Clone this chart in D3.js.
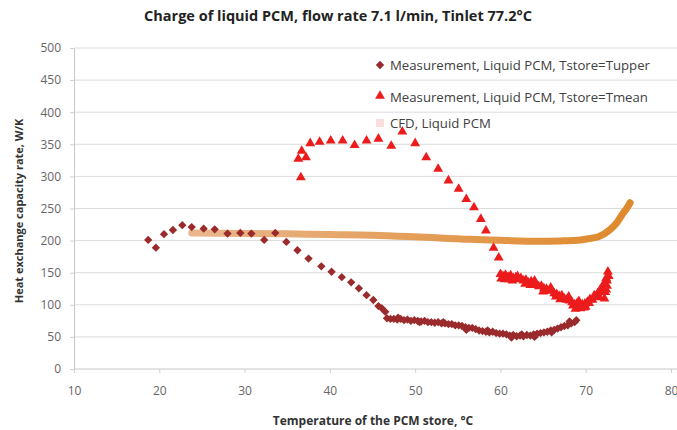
<!DOCTYPE html>
<html>
<head>
<meta charset="utf-8">
<script src="https://cdn.jsdelivr.net/npm/d3@7/dist/d3.min.js"></script>
<style>
  body { margin: 0; background: #fff; }
  svg text { font-family: "Open Sans", "Noto Sans", sans-serif; }
</style>
</head>
<body>
<svg id="chart" width="677" height="430"></svg>
<script>
var WIDTH = 677, HEIGHT = 430;
var margin = {top: 48, right: 6, bottom: 61, left: 74};

var X_TICKS = [10, 20, 30, 40, 50, 60, 70, 80];
var Y_TICKS = [0, 50, 100, 150, 200, 250, 300, 350, 400, 450, 500];

// Measurement, Tstore=Tupper (diamonds)
var upperT = [18.7, 19.6, 20.55, 21.6, 22.7, 23.8, 25.2, 26.5, 28.0, 29.5, 30.8, 32.3, 33.6, 34.9,
  36.2, 37.5, 39.0, 40.2, 41.4, 42.5, 43.4, 44.3, 45.1, 45.7, 46.1, 46.5,
  46.7, 47.1, 47.5, 47.9, 48.3, 48.7, 49.1, 49.5, 49.9, 50.3, 50.7, 51.1, 51.5, 51.9, 52.3, 52.7,
  53.1, 53.5, 53.9, 54.3, 54.7, 55.1, 55.5, 55.9, 56.3, 56.7, 57.1, 57.5, 57.9, 58.3, 58.7, 59.1,
  59.5, 59.9, 60.3, 60.7, 61.1, 61.5, 61.9, 62.3, 62.7, 63.1, 63.5, 63.9, 64.3, 64.7, 65.1, 65.5,
  65.9, 66.3, 66.7, 67.1, 67.5, 67.9, 68.3, 68.7, 68.9,
  48.0, 50.5, 53.3, 56.0, 58.5, 61.3, 62.5, 64.0, 66.0, 68.1];
var upperV = [201, 189, 210, 216.5, 224, 221, 218.6, 217.6, 211, 212, 211, 201, 212, 198,
  185, 172, 160, 151.5, 143, 135, 125.6, 115, 107.5, 98, 94.5, 89,
  79, 78, 78, 77, 78, 76, 77, 75, 76, 75, 74, 75, 73, 73, 72, 73,
  71, 71, 70, 70, 68, 68, 67, 65, 64, 64, 62, 60, 59, 58, 57, 58,
  56, 55, 55, 54, 52, 53, 51, 52, 51, 53, 52, 54, 55, 56, 57, 58,
  60, 61, 63, 65, 67, 68, 71, 73, 76,
  80, 73, 73, 61, 60, 49, 54, 50, 57, 74];

// Measurement, Tstore=Tmean (triangles)
var meanT = [36.3, 36.7, 37.2, 36.6, 37.7, 38.8, 40.1, 41.5, 42.9, 44.3, 45.7, 47.2, 48.5, 50.0,
  51.3, 52.7, 53.9, 55.1, 56.0, 56.9, 57.7, 58.3, 59.2, 59.8,
  60.0, 60.3, 60.6, 60.9, 61.2, 61.5, 61.8, 62.1, 62.4, 62.7, 63.0, 63.3, 63.6, 63.9, 64.2, 64.5,
  64.8, 65.1, 65.4, 65.7, 66.0, 66.3, 66.6, 66.9, 67.2, 67.5, 67.8, 68.1, 68.4, 68.7, 69.0, 69.3,
  69.6, 69.9, 70.2, 70.5, 70.8, 71.1, 71.4, 71.7, 72.0, 72.2, 72.4, 72.6,
  68.8, 69.4, 70.0, 72.3, 72.5, 72.2, 61.0, 63.5, 66.5,
  60.1, 60.5, 61.4, 62.0, 62.9, 64.0, 65.0, 65.9, 67.0, 68.0, 68.5, 69.2, 69.8, 70.4, 71.0, 71.6,
  72.1, 72.5, 72.7, 72.4];
var meanV = [325.5, 338, 328, 297, 350, 352, 354, 354, 347, 354, 357, 346, 368, 350,
  328, 310, 292, 279, 263, 250, 232, 214, 187, 172,
  146, 143, 145, 142, 144, 140, 141, 138, 140, 136, 137, 133, 135, 131, 130, 127,
  128, 124, 123, 120, 121, 116, 115, 112, 113, 108, 106, 105, 102, 99, 101, 96,
  99, 100, 103, 107, 106, 112, 116, 122, 126, 133, 140, 150,
  92, 93, 95, 118, 128, 108, 138, 129, 111,
  139, 138, 136, 143, 131, 136, 119, 125, 107, 111, 97, 104, 94, 101, 113, 110,
  119, 136, 143, 122];

// CFD, Liquid PCM (line)
var cfdT = [23.8, 30, 35, 40, 45, 50, 56.4, 60, 64.2, 67, 69, 70.1, 71.5, 72.8, 73.6, 74.4, 74.9, 75.2];
var cfdV = [212, 211, 210.5, 209.5, 208.5, 206, 202, 200.5, 199, 199.5, 200.5, 202.5, 206, 216.5, 227, 243, 252, 259];

var SERIES_NAMES = ["Measurement, Liquid PCM, Tstore=Tupper",
  "Measurement, Liquid PCM, Tstore=Tmean",
  "CFD, Liquid PCM"];

var svg = d3.select("#chart");

var x = d3.scaleLinear().domain([10, 80]).range([margin.left, WIDTH - margin.right]);
var y = d3.scaleLinear().domain([0, 500]).range([HEIGHT - margin.bottom, margin.top]);

// gradient for the CFD band (lighter on the left, more saturated right)
var grad = svg.append("defs").append("linearGradient")
  .attr("id", "cfdGrad")
  .attr("gradientUnits", "userSpaceOnUse")
  .attr("x1", x(24)).attr("x2", x(75)).attr("y1", 0).attr("y2", 0);
grad.append("stop").attr("offset", "0%").attr("stop-color", "#e9b78c");
grad.append("stop").attr("offset", "60%").attr("stop-color", "#e39a50");
grad.append("stop").attr("offset", "100%").attr("stop-color", "#de8a2c");

// grid
svg.append("g")
  .selectAll("line")
  .data(Y_TICKS.filter(function(d) { return d > 0; }))
  .enter().append("line")
  .attr("x1", x(10)).attr("x2", WIDTH)
  .attr("y1", function(d) { return y(d); })
  .attr("y2", function(d) { return y(d); })
  .attr("stroke", "#dcdcdc")
  .attr("stroke-width", 1);

var xAxis = svg.append("g")
  .attr("transform", "translate(0," + y(0) + ")")
  .call(d3.axisBottom(x).tickValues(X_TICKS).tickSize(4).tickSizeOuter(0));
xAxis.select(".domain").attr("stroke", "#c8c8c8").attr("d", "M" + x(10) + ",0H" + WIDTH);
xAxis.selectAll(".tick line").attr("stroke", "#d0d0d0");
xAxis.selectAll(".tick text")
  .attr("dy", "1.55em")
  .attr("fill", "#666")
  .style("font-size", "12px");

var yAxis = svg.append("g")
  .attr("transform", "translate(" + x(10) + ",0)")
  .call(d3.axisLeft(y).tickValues(Y_TICKS).tickSize(4).tickSizeOuter(0));
yAxis.select(".domain").attr("stroke", "#c8c8c8");
yAxis.selectAll(".tick line").attr("stroke", "#d0d0d0");
yAxis.selectAll(".tick text")
  .attr("x", -13)
  .attr("fill", "#666")
  .style("font-size", "12px");
svg.selectAll(".tick text").style("font-family", "'Open Sans', sans-serif");

// CFD line
var line = d3.line()
  .x(function(d) { return x(d[0]); })
  .y(function(d) { return y(d[1]); })
  .curve(d3.curveMonotoneX);
svg.append("path")
  .datum(d3.zip(cfdT, cfdV))
  .attr("d", line)
  .attr("fill", "none")
  .attr("stroke", "url(#cfdGrad)")
  .attr("stroke-width", 7)
  .attr("stroke-linecap", "round");

var diamond = d3.symbol().type(d3.symbolDiamond2).size(44);
var triangle = d3.symbol().type(d3.symbolTriangle).size(42);

svg.append("g")
  .selectAll("path")
  .data(d3.zip(upperT, upperV))
  .enter().append("path")
  .attr("d", diamond)
  .attr("transform", function(d) { return "translate(" + x(d[0]) + "," + y(d[1]) + ")"; })
  .attr("fill", "#9a2a2c");

svg.append("g")
  .selectAll("path")
  .data(d3.zip(meanT, meanV))
  .enter().append("path")
  .attr("d", triangle)
  .attr("transform", function(d) { return "translate(" + x(d[0]) + "," + (y(d[1]) - 1) + ")"; })
  .attr("fill", "#ec1c1c");

// legend
var legend = svg.append("g");
var legendY = [65, 97, 123];
legend.append("path").attr("d", diamond)
  .attr("transform", "translate(380," + legendY[0] + ")").attr("fill", "#9a2a2c");
legend.append("path").attr("d", triangle)
  .attr("transform", "translate(380," + (legendY[1] - 1) + ")").attr("fill", "#ec1c1c");
legend.append("rect")
  .attr("x", 376).attr("y", legendY[2] - 4).attr("width", 8).attr("height", 8)
  .attr("fill", "#f8dede");
legend.selectAll("text")
  .data(SERIES_NAMES)
  .enter().append("text")
  .attr("x", 390)
  .attr("y", function(d, i) { return legendY[i]; })
  .attr("dy", "0.35em")
  .attr("fill", "#404040")
  .style("font-size", "13.2px")
  .text(function(d) { return d; });

// titles
svg.append("text")
  .attr("x", 338).attr("y", 16)
  .attr("dy", "0.35em")
  .attr("text-anchor", "middle")
  .attr("fill", "#222")
  .style("font-size", "14.5px")
  .style("font-weight", "bold")
  .text("Charge of liquid PCM, flow rate 7.1 l/min, Tinlet  77.2°C");

svg.append("text")
  .attr("x", 373).attr("y", 421)
  .attr("dy", "0.35em")
  .attr("text-anchor", "middle")
  .attr("fill", "#333")
  .style("font-size", "12px")
  .style("font-weight", "bold")
  .text("Temperature of the PCM store, °C");

svg.append("text")
  .attr("transform", "translate(19,211) rotate(-90)")
  .attr("dy", "0.35em")
  .attr("text-anchor", "middle")
  .attr("fill", "#333")
  .style("font-size", "11px")
  .style("font-weight", "bold")
  .text("Heat exchange capacity rate,  W/K");
</script>
</body>
</html>
